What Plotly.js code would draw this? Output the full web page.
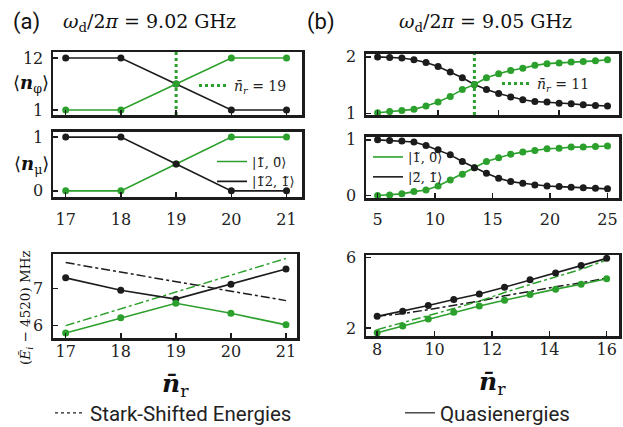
<!DOCTYPE html>
<html>
<head>
<meta charset="utf-8">
<script src="https://cdn.plot.ly/plotly-3.0.1.min.js"></script>
<style>html,body{margin:0;padding:0;background:#fff;}#chart{width:623px;height:427px;}</style>
</head>
<body>
<div id="chart"></div>
<script>
// ---------- data ----------
// panel (a): omega_d/2pi = 9.02 GHz
const nLeft = [17, 18, 19, 20, 21];
const nPhiGreenL = [1, 1, 6.5, 12, 12];
const nPhiBlackL = [12, 12, 6.5, 1, 1];
const nMuGreenL = [0, 0, 0.5, 1, 1];
const nMuBlackL = [1, 1, 0.5, 0, 0];
const quasiBlackL = [7.28, 6.95, 6.71, 7.11, 7.52];
const quasiGreenL = [5.80, 6.21, 6.60, 6.33, 6.02];
const starkNLeft = [17, 21];
const starkBlackL = [7.69, 6.67];
const starkGreenL = [6.00, 7.80];
const crossLeft = 19;

// panel (b): omega_d/2pi = 9.05 GHz
const nRight = [5, 6.05, 7.11, 8.16, 9.21, 10.26, 11.32, 12.37, 13.42, 14.47, 15.53, 16.58, 17.63, 18.68, 19.74, 20.79, 21.84, 22.89, 23.95, 25];
const nPhiBlackR = [2.00, 1.99, 1.98, 1.95, 1.90, 1.83, 1.73, 1.63, 1.51, 1.42, 1.35, 1.29, 1.24, 1.21, 1.20, 1.18, 1.17, 1.15, 1.14, 1.13];
const nPhiGreenR = [1.01, 1.03, 1.05, 1.07, 1.13, 1.20, 1.30, 1.42, 1.51, 1.63, 1.70, 1.76, 1.80, 1.85, 1.88, 1.89, 1.91, 1.92, 1.93, 1.95];
const nMuBlackR = [1.00, 0.99, 0.98, 0.96, 0.90, 0.82, 0.73, 0.61, 0.50, 0.40, 0.31, 0.25, 0.22, 0.19, 0.17, 0.16, 0.15, 0.14, 0.13, 0.12];
const nMuGreenR = [0.00, 0.01, 0.03, 0.07, 0.10, 0.17, 0.28, 0.38, 0.50, 0.61, 0.68, 0.74, 0.78, 0.81, 0.84, 0.85, 0.87, 0.87, 0.88, 0.89];
const crossRightIndex = 8;
const nRightE = [8, 8.89, 9.78, 10.67, 11.56, 12.44, 13.33, 14.22, 15.11, 16];
const quasiBlackR = [2.66, 2.95, 3.27, 3.61, 3.93, 4.31, 4.73, 5.11, 5.53, 5.94];
const quasiGreenR = [1.73, 2.11, 2.51, 2.89, 3.25, 3.57, 3.90, 4.20, 4.48, 4.79];
const starkBlackR = [2.66, 2.82, 3.04, 3.29, 3.52, 3.82, 4.09, 4.33, 4.56, 4.82];
const starkGreenR = [1.91, 2.30, 2.72, 3.10, 3.52, 4.01, 4.46, 4.88, 5.32, 5.85];

// tick labels
const ticksLeftX = [17, 18, 19, 20, 21];
const ticksLT_Y = [1, 12];
const ticksLM_Y = [0, 1];
const ticksLB_Y = [6, 7];
const ticksRT_Y = [1, 2];
const ticksRM_X = [5, 10, 15, 20, 25];
const ticksRM_Y = [0, 1];
const ticksRB_X = [8, 10, 12, 14, 16];
const ticksRB_Y = [2, 6];

// ---------- styling ----------
const W = 623, H = 427;
const px = v => v / W;
const py = v => 1 - v / H;
const GREEN = '#2ca02c';
const BLACK = '#1c1c1c';
const SERIF = 'DejaVu Serif';
const SANS = 'Roboto';

const yRangeLT = [-0.06, 13.27];
const yRangeRT = [0.97, 2.06];

function solid(x, y, color, xa, ya) {
  return {
    x: x, y: y, xaxis: xa, yaxis: ya, type: 'scatter', mode: 'lines+markers',
    line: {color: color, width: 1.6}, marker: {color: color, size: 7},
    showlegend: false, hoverinfo: 'skip'
  };
}
function dashdot(x, y, color, xa, ya) {
  return {x: x, y: y, xaxis: xa, yaxis: ya, type: 'scatter', mode: 'lines',
    line: {color: color, width: 1.5, dash: 'dashdot'}, showlegend: false, hoverinfo: 'skip'};
}
function handle(name, color, dash, width, legend, xa, ya) {
  return {x: [null], y: [null], xaxis: xa, yaxis: ya, type: 'scatter', mode: 'lines',
    line: {color: color, width: width, dash: dash}, name: name, legend: legend, showlegend: true, hoverinfo: 'skip'};
}

const traces = [
  // (a) top
  solid(nLeft, nPhiBlackL, BLACK, 'x', 'y'),
  solid(nLeft, nPhiGreenL, GREEN, 'x', 'y'),
  {x: [crossLeft, crossLeft], y: yRangeLT, xaxis: 'x', yaxis: 'y', type: 'scatter', mode: 'lines',
   line: {color: GREEN, width: 3, dash: 'dot'}, name: '<i>n̄<sub>r</sub></i> = 19', legend: 'legend', showlegend: true, hoverinfo: 'skip'},
  // (a) middle
  solid(nLeft, nMuGreenL, GREEN, 'x2', 'y2'),
  solid(nLeft, nMuBlackL, BLACK, 'x2', 'y2'),
  handle('|1̃, 0̃⟩', GREEN, 'solid', 1.6, 'legend2', 'x2', 'y2'),
  handle('|1̃2, 1̃⟩', BLACK, 'solid', 1.6, 'legend2', 'x2', 'y2'),
  // (a) bottom
  dashdot(starkNLeft, starkBlackL, BLACK, 'x3', 'y3'),
  dashdot(starkNLeft, starkGreenL, GREEN, 'x3', 'y3'),
  solid(nLeft, quasiBlackL, BLACK, 'x3', 'y3'),
  solid(nLeft, quasiGreenL, GREEN, 'x3', 'y3'),
  // (b) top
  solid(nRight, nPhiBlackR, BLACK, 'x4', 'y4'),
  solid(nRight, nPhiGreenR, GREEN, 'x4', 'y4'),
  {x: [nRight[crossRightIndex], nRight[crossRightIndex]], y: yRangeRT, xaxis: 'x4', yaxis: 'y4', type: 'scatter', mode: 'lines',
   line: {color: GREEN, width: 3, dash: 'dot'}, name: '<i>n̄<sub>r</sub></i> = 11', legend: 'legend3', showlegend: true, hoverinfo: 'skip'},
  // (b) middle
  solid(nRight, nMuGreenR, GREEN, 'x5', 'y5'),
  solid(nRight, nMuBlackR, BLACK, 'x5', 'y5'),
  handle('|1̃, 0̃⟩', GREEN, 'solid', 1.6, 'legend4', 'x5', 'y5'),
  handle('|2̃, 1̃⟩', BLACK, 'solid', 1.6, 'legend4', 'x5', 'y5'),
  // (b) bottom
  dashdot(nRightE, starkBlackR, BLACK, 'x6', 'y6'),
  dashdot(nRightE, starkGreenR, GREEN, 'x6', 'y6'),
  solid(nRightE, quasiBlackR, BLACK, 'x6', 'y6'),
  solid(nRightE, quasiGreenR, GREEN, 'x6', 'y6'),
  // figure legend handles
  handle('Stark-Shifted Energies', BLACK, 'dot', 1.2, 'legend5', 'x3', 'y3'),
  handle('Quasienergies', BLACK, 'solid', 1.2, 'legend6', 'x6', 'y6')
];

const tickFont = {family: SERIF, size: 16, color: '#222'};
function axis(domain, range, tickvals, showlabels, anchor, standoff) {
  return {
    domain: domain, range: range, tickmode: 'array', tickvals: tickvals, anchor: anchor,
    showticklabels: showlabels, tickfont: tickFont, ticks: 'inside', ticklen: 5, tickwidth: 1.5,
    tickcolor: BLACK, showline: true, linewidth: 2.5, linecolor: BLACK, mirror: true,
    showgrid: false, zeroline: false, fixedrange: true,
    ticklabelstandoff: (standoff === undefined ? 4 : standoff), automargin: false
  };
}

const xdL = [px(53), px(302)];
const xdLB = [px(53), px(297)];
const xdR = [px(366), px(619)];

function legendBox(xPix, yPix, size, family) {
  return {x: px(xPix), y: py(yPix), xanchor: 'left', yanchor: 'middle', bgcolor: 'rgba(0,0,0,0)',
    borderwidth: 0, font: {family: family || SERIF, size: size || 13, color: '#222'},
    itemclick: false, itemdoubleclick: false, tracegroupgap: 0, itemwidth: 30};
}
function label(text, xPix, yPix, size, family, xanchor, extra) {
  return Object.assign({text: text, x: px(xPix), y: py(yPix), xref: 'paper', yref: 'paper',
    xanchor: xanchor || 'center', yanchor: 'middle', showarrow: false,
    font: {family: family, size: size, color: '#111'}}, extra || {});
}

const layout = {
  width: W, height: H, autosize: false,
  margin: {l: 0, r: 0, t: 0, b: 0, autoexpand: false},
  paper_bgcolor: '#fff', plot_bgcolor: '#fff',
  xaxis: axis(xdL, [16.77, 21.28], ticksLeftX, false, 'y'),
  yaxis: axis([py(115), py(52)], yRangeLT, ticksLT_Y, true, 'x'),
  xaxis2: axis(xdL, [16.77, 21.28], ticksLeftX, true, 'y2', 6),
  yaxis2: axis([py(197.3), py(131.7)], [-0.12, 1.10], ticksLM_Y, true, 'x2'),
  xaxis3: axis(xdLB, [16.77, 21.2], ticksLeftX, true, 'y3', -3),
  yaxis3: axis([py(338.3), py(254)], [5.66, 7.92], ticksLB_Y, true, 'x3'),
  xaxis4: axis(xdR, [3.99, 26.0], [nRight[0], nRight[5], nRight[10], nRight[15]], false, 'y4'),
  yaxis4: axis([py(115), py(53.5)], yRangeRT, ticksRT_Y, true, 'x4'),
  xaxis5: axis(xdR, [3.99, 26.0], ticksRM_X, true, 'y5', 5),
  yaxis5: axis([py(198.3), py(136.5)], [-0.05, 1.06], ticksRM_Y, true, 'x5'),
  xaxis6: axis(xdR, [7.61, 16.43], ticksRB_X, true, 'y6', -3),
  yaxis6: axis([py(336), py(255)], [1.55, 6.13], ticksRB_Y, true, 'x6'),
  legend: legendBox(194, 86, 14),
  legend2: legendBox(212, 171.5, 13),
  legend3: legendBox(497, 84, 14),
  legend4: legendBox(368, 167, 13),
  legend5: legendBox(50, 413, 20.5, SANS),
  legend6: legendBox(400, 413, 20.5, SANS),
  annotations: [
    label('(a)', 27, 22, 22, SANS),
    label('(b)', 321, 22, 22, SANS),
    label('<i>ω</i><sub>d</sub>/2<i>π</i> = 9.02 GHz', 149, 22, 19, SERIF),
    label('<i>ω</i><sub>d</sub>/2<i>π</i> = 9.05 GHz', 485, 22, 19, SERIF),
    label('⟨<b><i>n</i></b><sub>φ</sub>⟩', 51, 84, 18, SERIF, 'right'),
    label('⟨<b><i>n</i></b><sub>μ</sub>⟩', 51, 165, 18, SERIF, 'right'),
    label('(<i>Ẽ<sub>i</sub></i> − 4520) MHz', 26, 308, 13.5, SERIF, 'center', {textangle: -90}),
    label('<b><i>n̄</i></b><sub>r</sub>', 175, 385, 25, SERIF),
    label('<b><i>n̄</i></b><sub>r</sub>', 492, 383, 25, SERIF)
  ]
};

Plotly.newPlot('chart', traces, layout, {displayModeBar: false, staticPlot: true});
</script>
</body>
</html>
